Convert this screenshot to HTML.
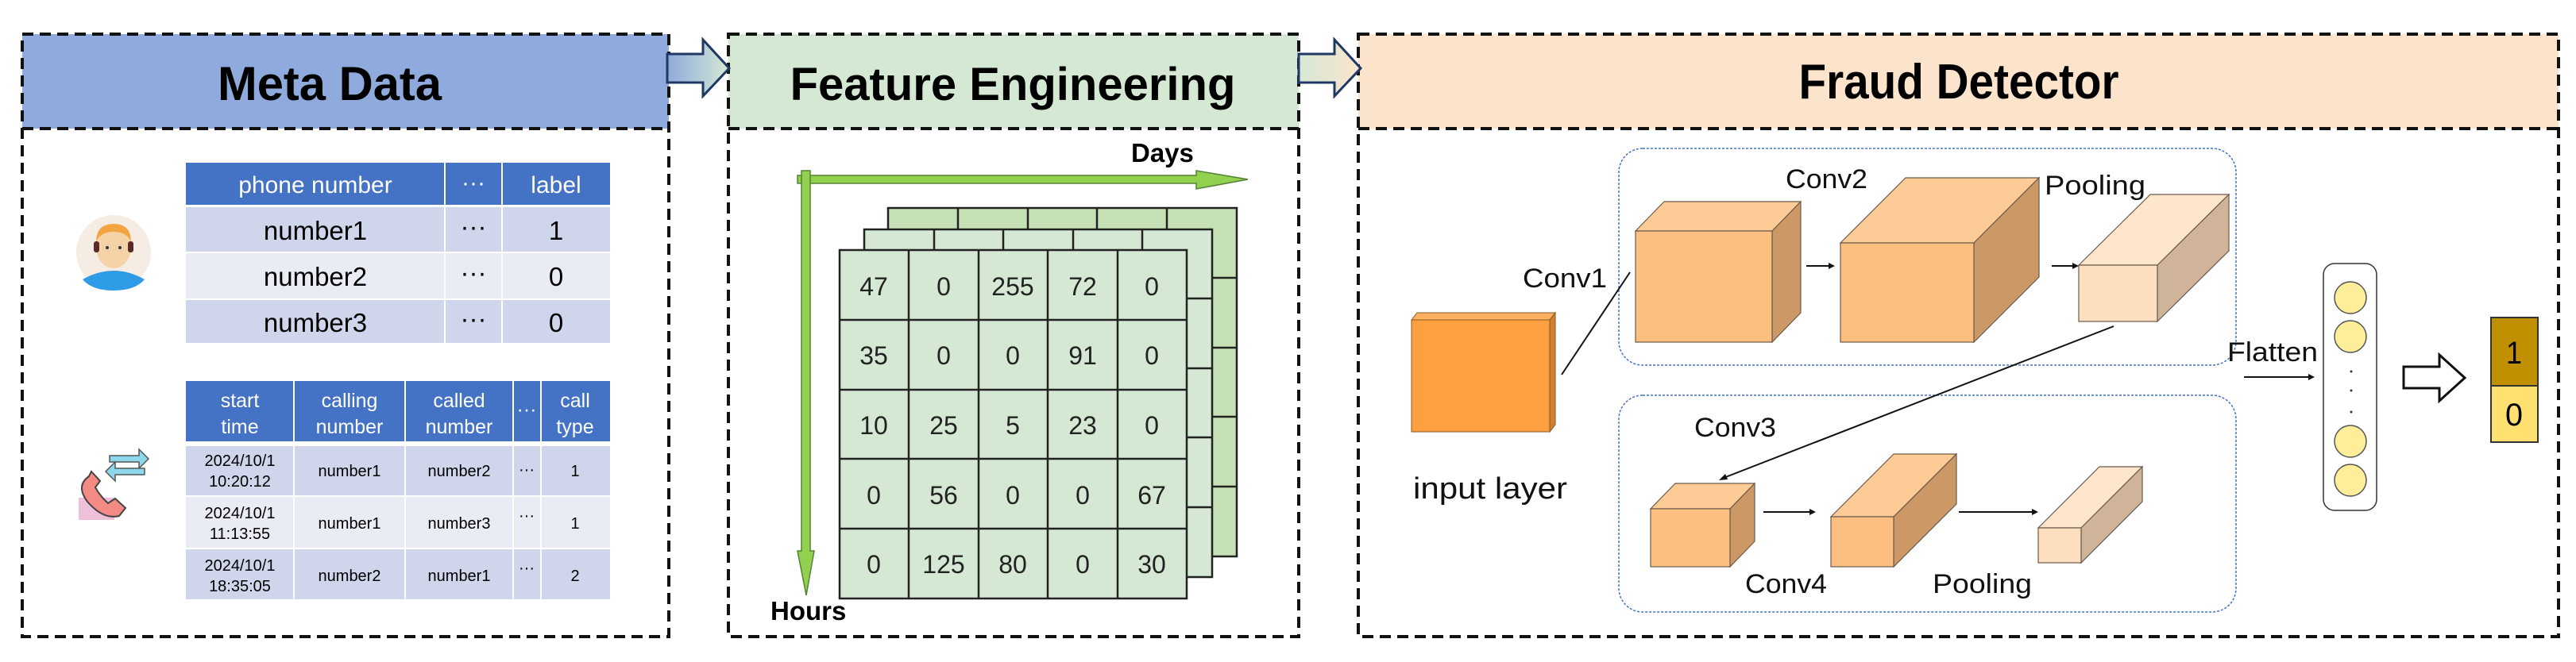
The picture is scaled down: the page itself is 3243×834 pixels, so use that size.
<!DOCTYPE html>
<html><head><meta charset="utf-8"><style>
html,body{margin:0;padding:0;background:#fff;}
svg{display:block;}
text{font-family:"Liberation Sans",sans-serif;}
</style></head><body>
<svg width="3243" height="834" viewBox="0 0 3243 834" xmlns="http://www.w3.org/2000/svg">
<defs>
<linearGradient id="g1" x1="0" x2="1"><stop offset="0" stop-color="#8FAADC"/><stop offset="1" stop-color="#D5E8D4"/></linearGradient>
<linearGradient id="g2" x1="0" x2="1"><stop offset="0" stop-color="#D5E8D4"/><stop offset="1" stop-color="#FCE4CC"/></linearGradient>
</defs>
<rect x="28" y="43" width="814" height="119" fill="#8FAADC"/>
<rect x="917" y="43" width="718" height="119" fill="#D5E8D4"/>
<rect x="1710" y="43" width="1511" height="119" fill="#FCE4CC"/>
<g fill="none" stroke="#111" stroke-width="4" stroke-dasharray="14 8">
<rect x="28" y="43" width="814" height="759"/><line x1="28" y1="162" x2="842" y2="162"/>
<rect x="917" y="43" width="718" height="759"/><line x1="917" y1="162" x2="1635" y2="162"/>
<rect x="1710" y="43" width="1511" height="759"/><line x1="1710" y1="162" x2="3221" y2="162"/>
</g>
<text x="415" y="126" font-size="60" font-weight="bold" text-anchor="middle" textLength="282" lengthAdjust="spacingAndGlyphs">Meta Data</text>
<text x="1275" y="126" font-size="58" font-weight="bold" text-anchor="middle">Feature Engineering</text>
<text x="2466" y="124" font-size="62" font-weight="bold" text-anchor="middle" textLength="403" lengthAdjust="spacingAndGlyphs">Fraud Detector</text>
<polygon points="840,68 885,68 885,50 918,86 885,121 885,104 840,104" fill="url(#g1)" stroke="#1F3864" stroke-width="3"/>
<polygon points="1635,68 1680,68 1680,50 1713,86 1680,121 1680,104 1635,104" fill="url(#g2)" stroke="#1F3864" stroke-width="3"/>
<g>
<rect x="234" y="205" width="534" height="53" fill="#4472C4"/>
<rect x="234" y="261" width="534" height="56" fill="#CFD5EA"/>
<rect x="234" y="319" width="534" height="57" fill="#E9EBF5"/>
<rect x="234" y="378" width="534" height="54" fill="#CFD5EA"/>
<g stroke="#fff" stroke-width="2"><line x1="560" y1="205" x2="560" y2="432"/><line x1="632" y1="205" x2="632" y2="432"/></g>
<g font-size="30" fill="#fff" text-anchor="middle"><text x="397" y="243">phone number</text><text x="596" y="240">···</text><text x="700" y="243">label</text></g>
<g font-size="33" text-anchor="middle"><text x="397" y="302">number1</text><text x="596" y="297">···</text><text x="700" y="302">1</text>
<text x="397" y="360">number2</text><text x="596" y="355">···</text><text x="700" y="360">0</text>
<text x="397" y="418">number3</text><text x="596" y="413">···</text><text x="700" y="418">0</text></g>
</g>
<g>
<rect x="234" y="480" width="534" height="76" fill="#4472C4"/>
<rect x="234" y="562" width="534" height="62" fill="#CFD5EA"/>
<rect x="234" y="626" width="534" height="64" fill="#E9EBF5"/>
<rect x="234" y="692" width="534" height="63" fill="#CFD5EA"/>
<g stroke="#fff" stroke-width="2"><line x1="370" y1="480" x2="370" y2="755"/><line x1="510" y1="480" x2="510" y2="755"/><line x1="646" y1="480" x2="646" y2="755"/><line x1="681" y1="480" x2="681" y2="755"/></g>
<g font-size="25" fill="#fff" text-anchor="middle">
<text x="302" y="513">start</text><text x="302" y="546">time</text>
<text x="440" y="513">calling</text><text x="440" y="546">number</text>
<text x="578" y="513">called</text><text x="578" y="546">number</text>
<text x="663" y="524">···</text>
<text x="724" y="513">call</text><text x="724" y="546">type</text></g>
<g font-size="20" text-anchor="middle">
<text x="302" y="587">2024/10/1</text><text x="302" y="613">10:20:12</text><text x="440" y="600">number1</text><text x="578" y="600">number2</text><text x="663" y="598">···</text><text x="724" y="600">1</text>
<text x="302" y="653">2024/10/1</text><text x="302" y="679">11:13:55</text><text x="440" y="666">number1</text><text x="578" y="666">number3</text><text x="663" y="656">···</text><text x="724" y="666">1</text>
<text x="302" y="719">2024/10/1</text><text x="302" y="745">18:35:05</text><text x="440" y="732">number2</text><text x="578" y="732">number1</text><text x="663" y="722">···</text><text x="724" y="732">2</text></g>
</g>
<g>
<ellipse cx="143" cy="318" rx="47" ry="47" fill="#F5EDE3"/>
<path d="M104,352 Q143,330 182,352 Q170,366 143,366 Q116,366 104,352Z" fill="#2E9BE6"/>
<ellipse cx="143" cy="312" rx="22" ry="26" fill="#F6D2A8"/>
<path d="M121,305 Q121,282 143,282 Q165,282 165,305 Q160,292 143,292 Q126,292 121,305Z" fill="#F2A541"/>
<rect x="118" y="304" width="7" height="14" rx="3" fill="#5A2A2A"/><rect x="161" y="304" width="7" height="14" rx="3" fill="#5A2A2A"/>
<circle cx="135" cy="312" r="2" fill="#333"/><circle cx="151" cy="312" r="2" fill="#333"/>
</g>
<g>
<rect x="99" y="627" width="45" height="28" fill="#EEC0DA"/>
<path d="M112,600 Q95,612 110,632 Q130,655 150,650 L158,640 L145,628 L136,634 Q126,625 120,614 L126,606 L115,594Z" fill="#F48A84" stroke="#444" stroke-width="2"/>
<polygon points="138,574 175,574 175,566 187,578 175,590 175,582 138,582" fill="#8ED8EE" stroke="#555" stroke-width="1.5"/>
<polygon points="182,590 145,590 145,582 133,594 145,606 145,598 182,598" fill="#8ED8EE" stroke="#555" stroke-width="1.5"/>
</g>
<g stroke="#222" stroke-width="2.5">
<rect x="1118" y="262" width="439" height="439" fill="#C5E0B4"/>
<g><line x1="1206" y1="262" x2="1206" y2="289"/><line x1="1294" y1="262" x2="1294" y2="289"/><line x1="1381" y1="262" x2="1381" y2="289"/><line x1="1469" y1="262" x2="1469" y2="289"/>
<line x1="1526" y1="350" x2="1557" y2="350"/><line x1="1526" y1="438" x2="1557" y2="438"/><line x1="1526" y1="525" x2="1557" y2="525"/><line x1="1526" y1="613" x2="1557" y2="613"/></g>
<rect x="1088" y="289" width="438" height="438" fill="#D5E8D4"/>
<g><line x1="1176" y1="289" x2="1176" y2="315"/><line x1="1263" y1="289" x2="1263" y2="315"/><line x1="1351" y1="289" x2="1351" y2="315"/><line x1="1438" y1="289" x2="1438" y2="315"/>
<line x1="1494" y1="376" x2="1526" y2="376"/><line x1="1494" y1="464" x2="1526" y2="464"/><line x1="1494" y1="551" x2="1526" y2="551"/><line x1="1494" y1="639" x2="1526" y2="639"/></g>
<rect x="1057" y="315" width="437" height="439" fill="#D5E8D4"/>
<line x1="1144" y1="315" x2="1144" y2="754"/><line x1="1232" y1="315" x2="1232" y2="754"/><line x1="1319" y1="315" x2="1319" y2="754"/><line x1="1407" y1="315" x2="1407" y2="754"/>
<line x1="1057" y1="403" x2="1494" y2="403"/><line x1="1057" y1="491" x2="1494" y2="491"/><line x1="1057" y1="578" x2="1494" y2="578"/><line x1="1057" y1="666" x2="1494" y2="666"/>
</g>
<g font-size="32" text-anchor="middle" fill="#222">
<text x="1100" y="372">47</text><text x="1188" y="372">0</text><text x="1275" y="372">255</text><text x="1363" y="372">72</text><text x="1450" y="372">0</text>
<text x="1100" y="459">35</text><text x="1188" y="459">0</text><text x="1275" y="459">0</text><text x="1363" y="459">91</text><text x="1450" y="459">0</text>
<text x="1100" y="547">10</text><text x="1188" y="547">25</text><text x="1275" y="547">5</text><text x="1363" y="547">23</text><text x="1450" y="547">0</text>
<text x="1100" y="635">0</text><text x="1188" y="635">56</text><text x="1275" y="635">0</text><text x="1363" y="635">0</text><text x="1450" y="635">67</text>
<text x="1100" y="722">0</text><text x="1188" y="722">125</text><text x="1275" y="722">80</text><text x="1363" y="722">0</text><text x="1450" y="722">30</text>
</g>
<polygon points="1004,221 1506,221 1506,215 1571,226 1506,238 1506,231 1004,231" fill="#92D050" stroke="#548235" stroke-width="1.5"/>
<polygon points="1009,215 1020,215 1020,694 1025,694 1015,750 1004,694 1009,694" fill="#92D050" stroke="#548235" stroke-width="1.5"/>
<text x="1424" y="204" font-size="33" font-weight="bold">Days</text>
<text x="970" y="781" font-size="33" font-weight="bold">Hours</text>
<g fill="none" stroke="#4472C4" stroke-width="1.5" stroke-dasharray="3 2">
<rect x="2038" y="187" width="777" height="273" rx="30"/>
<rect x="2038" y="498" width="777" height="273" rx="30"/>
</g>
<polygon points="1777,403 1784,394 1958,394 1951,403" fill="#FFB060" stroke="#8a5a20" stroke-width="1"/>
<polygon points="1951,403 1958,394 1958,535 1951,544" fill="#D08030" stroke="#8a5a20" stroke-width="1"/>
<rect x="1777" y="403" width="174" height="141" fill="#FFA040" stroke="#8a5a20" stroke-width="1"/>
<g stroke-width="1.2" stroke="#6b5a4a">
<polygon points="2059,291 2095,254 2267,254 2231,291" fill="#FDCB95"/><polygon points="2231,291 2267,254 2267,394 2231,431" fill="#CC9966"/><rect x="2059" y="291" width="172" height="140" fill="#FDBF80"/>
<polygon points="2317,306 2399,224 2567,224 2485,306" fill="#FDCB95"/><polygon points="2485,306 2567,224 2567,349 2485,431" fill="#CC9966"/><rect x="2317" y="306" width="168" height="125" fill="#FDBF80"/>
<polygon points="2617,334 2707,245 2806,245 2716,334" fill="#FEE6CC"/><polygon points="2716,334 2806,245 2806,316 2716,405" fill="#D0B49A"/><rect x="2617" y="334" width="99" height="71" fill="#FDDFC0"/>
<polygon points="2078,641 2109,609 2209,609 2178,641" fill="#FDCB95"/><polygon points="2178,641 2209,609 2209,682 2178,714" fill="#CC9966"/><rect x="2078" y="641" width="100" height="73" fill="#FDBF80"/>
<polygon points="2305,651 2384,572 2463,572 2384,651" fill="#FDCB95"/><polygon points="2384,651 2463,572 2463,635 2384,714" fill="#CC9966"/><rect x="2305" y="651" width="79" height="63" fill="#FDBF80"/>
<polygon points="2566,665 2643,588 2697,588 2620,665" fill="#FEE6CC"/><polygon points="2620,665 2697,588 2697,632 2620,709" fill="#D0B49A"/><rect x="2566" y="665" width="54" height="44" fill="#FDDFC0"/>
</g>
<g stroke="#111" stroke-width="2" fill="none">
<line x1="1966" y1="472" x2="2052" y2="343"/>
<line x1="2274" y1="335" x2="2306" y2="335"/>
<line x1="2583" y1="335" x2="2612" y2="335"/>
<line x1="2661" y1="411" x2="2170" y2="602"/>
<line x1="2220" y1="645" x2="2282" y2="645"/>
<line x1="2466" y1="645" x2="2562" y2="645"/>
<line x1="2825" y1="475" x2="2910" y2="475"/>
</g>
<g fill="#111">
<polygon points="2310,335 2302,331 2302,339"/>
<polygon points="2617,335 2609,331 2609,339"/>
<polygon points="2164,605 2172,597 2175,604"/>
<polygon points="2286,645 2278,641 2278,649"/>
<polygon points="2566,645 2558,641 2558,649"/>
<polygon points="2914,475 2906,471 2906,479"/>
</g>
<g font-size="34" fill="#111">
<text x="1917" y="362" textLength="106" lengthAdjust="spacingAndGlyphs">Conv1</text>
<text x="2248" y="237" textLength="103" lengthAdjust="spacingAndGlyphs">Conv2</text>
<text x="2574" y="245" textLength="127" lengthAdjust="spacingAndGlyphs">Pooling</text>
<text x="2133" y="550" textLength="103" lengthAdjust="spacingAndGlyphs">Conv3</text>
<text x="2197" y="747" textLength="103" lengthAdjust="spacingAndGlyphs">Conv4</text>
<text x="2433" y="747" textLength="125" lengthAdjust="spacingAndGlyphs">Pooling</text>
<text x="2804" y="455" textLength="114" lengthAdjust="spacingAndGlyphs">Flatten</text>
<text x="1779" y="628" font-size="38" textLength="194" lengthAdjust="spacingAndGlyphs">input layer</text>
</g>
<rect x="2925" y="332" width="67" height="311" rx="14" fill="#fff" stroke="#333" stroke-width="1.5"/>
<g fill="#FFEE99" stroke="#555" stroke-width="1.5">
<ellipse cx="2959" cy="375" rx="20" ry="20"/><ellipse cx="2959" cy="424" rx="20" ry="20"/>
<ellipse cx="2959" cy="556" rx="20" ry="20"/><ellipse cx="2959" cy="605" rx="20" ry="20"/>
</g>
<g fill="#333"><circle cx="2960" cy="468" r="1.5"/><circle cx="2960" cy="492" r="1.5"/><circle cx="2960" cy="519" r="1.5"/></g>
<polygon points="3026,462 3071,462 3071,447 3103,476 3071,505 3071,489 3026,489" fill="#fff" stroke="#111" stroke-width="3"/>
<rect x="3136" y="400" width="59" height="86" fill="#C09000" stroke="#333" stroke-width="2"/>
<rect x="3136" y="486" width="59" height="71" fill="#FFE070" stroke="#333" stroke-width="2"/>
<text x="3165" y="458" font-size="40" text-anchor="middle" textLength="20" lengthAdjust="spacingAndGlyphs">1</text>
<text x="3165" y="536" font-size="40" text-anchor="middle" textLength="22" lengthAdjust="spacingAndGlyphs">0</text>
</svg>
</body></html>
